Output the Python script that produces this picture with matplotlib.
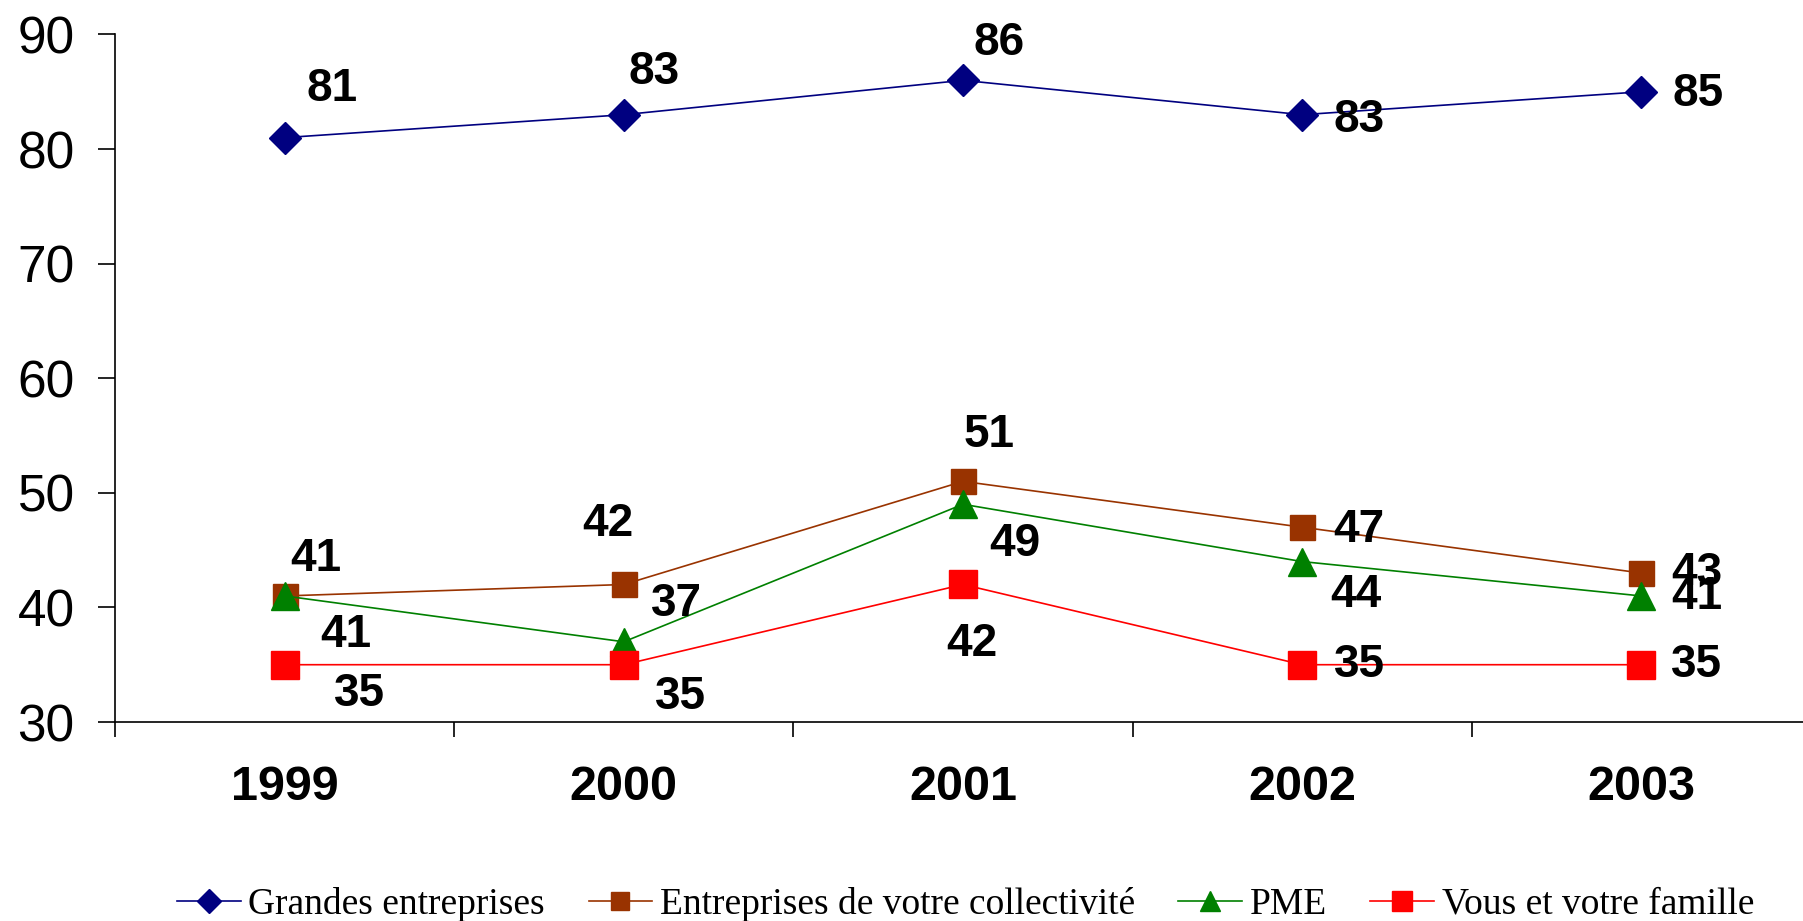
import matplotlib
matplotlib.use("Agg")
import matplotlib.pyplot as plt

years = ["1999", "2000", "2001", "2002", "2003"]
grandes = [81, 83, 86, 83, 85]
collectivite = [41, 42, 51, 47, 43]
pme = [41, 37, 49, 44, 41]
famille = [35, 35, 42, 35, 35]
series_names = ["Grandes entreprises", "Entreprises de votre collectivité", "PME", "Vous et votre famille"]
y_ticks = [30, 40, 50, 60, 70, 80, 90]

# label offsets (pixels) for each series' data labels
label_offsets = [
    [(47, 49), (30, 43), (36, 37), (57, -5), (57, -2)],
    [(31, 37), (-16, 60), (26, 46), (57, -3), (55, 0)],
    [(61, -39), (53, 38), (52, -40), (54, -33), (55, -1)],
    [(75, -29), (57, -32), (9, -60), (57, 0), (55, 0)],
]
styles = [
    dict(color="#000080", marker="D", ms=16.5),
    dict(color="#993300", marker="s", ms=18),
    dict(color="#008000", marker="^", ms=20),
    dict(color="#FF0000", marker="s", ms=20),
]

fig = plt.figure(figsize=(18.03, 9.21), dpi=100)
ax = fig.add_axes([115 / 1803, 1 - 722 / 921, 1696 / 1803, 687.5 / 921])

x = list(range(len(years)))
all_series = [grandes, collectivite, pme, famille]
for vals, name, st, offs in zip(all_series, series_names, styles, label_offsets):
    ax.plot(x, vals, color=st["color"], lw=1.2, marker=st["marker"], ms=st["ms"],
            markerfacecolor=st["color"], markeredgecolor=st["color"], label=name)
    for xi, v, (dx, dy) in zip(x, vals, offs):
        ax.annotate(str(v), (xi, v), xytext=(dx, dy), textcoords="offset pixels",
                    ha="center", va="center", fontsize=33, fontweight="bold",
                    family="Liberation Sans", color="black", annotation_clip=False)

ax.set_xlim(-0.5, len(years) - 0.5)
ax.set_ylim(30, 90)
ax.set_yticks(y_ticks)
ax.set_yticklabels([str(t) for t in y_ticks], fontsize=37, family="Liberation Sans")
ax.tick_params(axis="y", direction="out", length=12, width=1.2, pad=17)

ax.set_xticks(x)
ax.set_xticklabels(years, fontsize=35, fontweight="bold", family="Liberation Sans")
ax.set_xticks([i - 0.5 for i in range(len(years) + 1)], minor=True)
ax.tick_params(axis="x", which="major", length=0, pad=31)
ax.tick_params(axis="x", which="minor", direction="out", length=11, width=1.2)

for s in ["top", "right"]:
    ax.spines[s].set_visible(False)
for s in ["left", "bottom"]:
    ax.spines[s].set_linewidth(1.2)

fig.legend(loc="center", bbox_to_anchor=(0.5355, 0.018), ncol=4, frameon=False,
           prop={"family": "Liberation Serif", "size": 27},
           handlelength=1.7, handletextpad=0.2, columnspacing=1.16, markerscale=0.75)

fig.savefig("out.png", dpi=100)
